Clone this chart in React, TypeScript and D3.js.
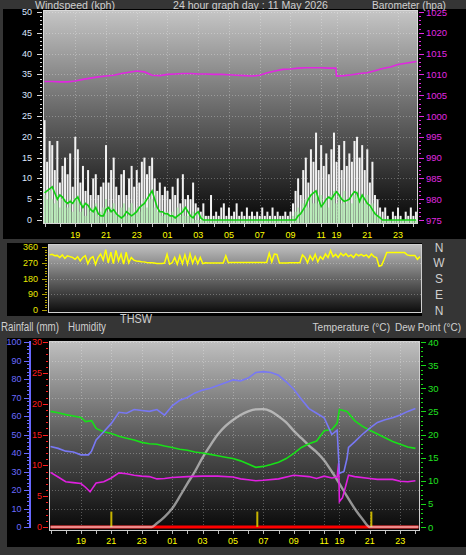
import React from "react";
import * as d3 from "d3";

const W = 466;
const H = 555;
const FONT = "'Liberation Sans', Arial, Helvetica, sans-serif";

// ---------------- data ----------------
// time axis: hours since 17:00 (with the data gap compressed after 11:xx)
const hourDomain: [number, number] = [-0.1, 24.3];
const xTickLabels = ["19", "21", "23", "01", "03", "05", "07", "09", "11", "19", "21", "23"];
const xTickHours = [2, 4, 6, 8, 10, 12, 14, 16, 18, 19, 21, 23];
const sampleStepHours = 1 / 6; // 10-minute samples

const gustKph = [
  24, 14, 19, 18, 12, 19, 9, 13, 15, 11, 16, 8,
  20, 17, 9, 13, 7, 12, 6, 10, 11, 6, 8, 9,
  18, 9, 12, 15, 8, 6, 11, 12, 6, 10, 13, 8,
  12, 9, 14, 15, 11, 13, 15, 10, 7, 9, 6, 8,
  7, 5, 8, 6, 10, 4, 11, 5, 6, 5, 9, 4,
  3, 2, 4, 1, 1, 6, 1, 2, 1, 3, 4, 1,
  3, 1, 2, 4, 1, 2, 1, 3, 1, 2, 1, 2,
  1, 3, 1, 2, 1, 3, 1, 2, 1, 1, 2, 1,
  2, 4, 7, 10, 6, 12, 15, 9, 17, 14, 21, 12,
  18, 13, 16, 11, 17, 21, 14, 18, 12, 19, 13, 16,
  14, 19, 20, 15, 18, 12, 17, 9, 14, 6, 5, 3,
  2, 3, 1, 0, 2, 1, 3, 1, 0, 2, 1, 3, 1, 2,
];

const windKph = [
  6, 5, 7, 5, 4, 6, 3, 5, 5, 3, 5, 2,
  5, 6, 2, 4, 1, 4, 2, 3, 4, 1, 2, 3,
  5, 2, 3, 4, 2, 1, 3, 4, 1, 3, 4, 2,
  3, 2, 4, 5, 3, 5, 5, 3, 2, 2, 1, 2,
  2, 1, 2, 1, 3, 1, 3, 1, 1, 1, 2, 0,
  0, 0, 1, 0, 0, 0, 0, 0, 0, 0, 0, 0,
  0, 0, 0, 0, 0, 0, 0, 0, 0, 0, 0, 0,
  0, 0, 0, 0, 0, 0, 0, 0, 0, 0, 0, 0,
  0, 1, 2, 3, 2, 4, 5, 3, 6, 4, 7, 4,
  6, 4, 5, 3, 6, 7, 4, 6, 4, 7, 4, 5,
  4, 6, 7, 5, 6, 4, 6, 3, 4, 2, 1, 1,
  0, 0, 0, 0, 0, 0, 0, 0, 0, 0, 0, 0, 0, 0,
];

const windAvgKph = [
  6.5, 7, 7.5, 8, 6.5, 5, 6, 5.5, 4.5, 4, 4.5, 4,
  5, 5.5, 4, 3, 4, 3.5, 2.5, 2, 3, 1.5, 1, 1,
  2.5, 3, 2, 2.5, 1.5, 1, 0.5, 1, 2, 1.5, 1, 1.5,
  2, 3, 3.5, 4, 5, 6, 7, 5, 3, 2, 2, 1.5,
  1.5, 1, 1, 0.5, 1, 1.5, 2, 3, 2, 1, 0.5, 1.5,
  2, 0.5, 0, 0, 0, 0, 0, 0, 0, 0, 0, 0,
  0, 0, 0, 0, 0, 0, 0, 0, 0, 0, 0, 0,
  0, 0, 0, 0, 0, 0, 0, 0, 0, 0, 0, 0,
  0, 0, 0, 1, 1.5, 2.5, 3.5, 5, 6, 6.5, 7, 5,
  3.2, 4, 5, 5.5, 5, 6, 6.8, 6, 5, 4.5, 4.7, 5,
  6, 6.8, 6.5, 4.5, 6, 5, 4, 3.5, 2.5, 1.5, 1, 0.5,
  0, 0, 0, 0, 0, 0, 0, 0, 0, 0, 0, 0, 0, 0,
];

const windDirDeg = [
  315, 318, 310, 312, 300, 315, 295, 310, 305, 300,
  290, 305, 280, 300, 310, 265, 295, 305, 260, 300,
  320, 285, 345, 270, 330, 265, 340, 280, 320, 262,
  330, 270, 300, 285, 280, 278, 276, 275, 272, 270,
  270, 268, 266, 266, 266, 268, 318, 262, 270, 300,
  262, 310, 265, 315, 262, 320, 268, 305, 265, 300,
  265, 270, 268, 268, 268, 268, 268, 268, 268, 310,
  270, 272, 272, 272, 272, 272, 272, 272, 272, 272,
  272, 272, 272, 272, 272, 272, 325, 275, 320, 318,
  268, 268, 268, 268, 270, 270, 270, 270, 270, 315,
  300, 270, 310, 285, 318, 275, 305, 290, 320, 300,
  340, 305, 318, 300, 325, 310, 322, 305, 315, 300,
  320, 310, 318, 308, 315, 300, 320, 305, 300, 250,
  255, 290, 328, 328, 328, 328, 328, 328, 328, 328,
  315, 312, 312, 312, 290, 305,
];

const baroHours = [
  0, 0.5, 1, 1.5, 2, 2.5, 3, 3.5, 4, 4.5, 5, 5.5, 6, 6.5, 7, 7.5, 8, 8.5, 9, 9.5,
  10, 10.5, 11, 11.5, 12, 12.5, 13, 13.5, 14, 14.5, 15, 15.5, 16, 16.5, 17, 17.5,
  18, 18.5, 18.95, 19, 19.5, 20, 20.5, 21, 21.5, 22, 22.5, 23, 23.5, 24, 24.2,
];
const baroHpa = [
  1008.3, 1008.3, 1008.2, 1008.2, 1008.4, 1008.8, 1009.1, 1009.4, 1009.6, 1009.8,
  1010.2, 1010.5, 1010.8, 1010.6, 1009.8, 1009.7, 1010.0, 1010.1, 1010.2, 1010.2,
  1010.1, 1010.1, 1010.0, 1010.0, 1009.9, 1009.8, 1009.7, 1009.6, 1009.8, 1010.4,
  1010.8, 1011.2, 1011.3, 1011.5, 1011.6, 1011.6, 1011.6, 1011.5, 1011.5, 1009.6,
  1009.7, 1009.9, 1010.2, 1010.4, 1010.9, 1011.4, 1011.8, 1012.4, 1012.7, 1013.0, 1013.1,
];

const humHours = [
  0, 0.5, 1, 1.5, 2, 2.5, 2.7, 3, 3.5, 4, 4.5, 5, 5.5, 6, 6.5, 7, 7.5, 8, 8.5, 9,
  9.5, 10, 10.5, 11, 11.5, 12, 12.5, 13, 13.5, 14, 14.5, 15, 15.5, 16, 16.5, 17, 17.5,
  18, 18.5, 18.85, 19, 19.3, 19.5, 19.6, 20, 20.5, 21, 21.5, 22, 22.5, 23, 23.5, 24,
];
const humPct = [
  43.5, 42.5, 41, 40.5, 39, 39, 41, 47, 51.5, 56, 62, 61.5, 63.5, 63, 62.5, 63.5, 60.5,
  65.5, 68.5, 70, 72.5, 74, 75, 76.5, 78, 79.5, 79, 80.5, 83.5, 84, 83.5, 82, 78.5, 74.5,
  69, 64, 61.5, 59, 50, 52.4, 29, 30, 37, 43, 46, 50, 53.5, 56.5, 58, 59, 60.5, 62.5, 64,
];

const tempHours = [
  0, 0.5, 1, 1.5, 2, 2.3, 2.7, 3, 3.5, 4, 4.5, 5, 5.5, 6, 6.5, 7, 7.5, 8, 8.5, 9,
  9.5, 10, 10.5, 11, 11.5, 12, 12.5, 13, 13.5, 14, 14.5, 15, 15.5, 16, 16.5, 17, 17.5,
  18, 18.5, 18.85, 19, 19.5, 20, 20.5, 21, 21.5, 22, 22.5, 23, 23.5, 24,
];
const tempC = [
  25, 24.7, 24.3, 24, 23.7, 22.8, 23, 21.3, 20.6, 20.2, 19.6, 19.2, 18.8, 18.3, 18, 17.9,
  17.5, 17.2, 16.8, 16.6, 16.2, 16, 15.7, 15.4, 15.1, 14.8, 14.3, 13.6, 12.9, 13.1, 13.5,
  14, 14.8, 15.9, 17.2, 18, 18.6, 20.8, 21.1, 22.4, 25.4, 25, 23, 21.8, 20.9, 20.1, 19.3,
  18.5, 17.9, 17.3, 17,
];

const dewHours = [
  0, 0.5, 1, 1.5, 2, 2.3, 2.6, 3, 3.5, 4, 4.5, 5, 5.5, 6, 6.5, 7, 7.5, 8, 9, 10,
  11, 12, 12.5, 13, 13.5, 14, 15, 16, 17, 17.5, 18, 18.5, 18.85, 18.95, 19, 19.2, 19.4,
  19.6, 20, 21, 21.5, 22.5, 23, 23.5, 24,
];
const dewC = [
  11.8, 10.8, 9.8, 9.6, 9.4, 8.6, 7.6, 9.5, 9.8, 10.6, 11.7, 11.5, 11.2, 11, 10.9, 10.4,
  10.5, 10.7, 10.9, 11, 11, 10.8, 10.4, 10.2, 10, 10.1, 10.4, 11.2, 10.9, 10.5, 11, 10.6,
  10.8, 13.8, 5.5, 6.3, 8.7, 11.2, 10.9, 10.5, 10.3, 10.3, 9.9, 9.8, 10,
];

const solarHours = [
  0, 6.65, 7, 7.5, 8, 8.5, 9, 9.5, 10, 10.5, 11, 11.5, 12, 12.5, 13, 13.5, 14, 14.5,
  15, 15.5, 16, 16.5, 17, 17.5, 18, 18.5, 19, 19.5, 20, 20.5, 21, 24.2,
];
const solarWm2 = [
  0, 0, 20, 55, 100, 165, 235, 300, 375, 440, 500, 545, 578, 605, 625, 636, 637, 625,
  598, 565, 520, 480, 440, 405, 360, 300, 235, 165, 100, 45, 0, 0,
];

const rainHours = [0, 24.2];
const rainMm = [0, 0];
const markerHours = [4, 13.6, 21.1];
const markerMm = [2.5, 2.5, 2.5];

const windTicks = d3.range(0, 51, 1);
const baroTicks = d3.range(975, 1026, 1);
const dirTicks = d3.range(0, 361, 15);
const humTicks = d3.range(0, 101, 2);
const rainTicks = d3.range(0, 31, 1);
const tempTicks = d3.range(0, 41, 1);
const dirLabels = ["N", "W", "S", "E", "N"];
const dirLabelDeg = [360, 270, 180, 90, 0];

// ---------------- component ----------------
export default function App() {
  // top panel
  const top = { l: 43, r: 418, t: 10, b: 224 };
  const xTop = d3.scaleLinear().domain(hourDomain).range([top.l, top.r]);
  const yWind = d3.scaleLinear().domain([0, 50]).range([220, 12]);
  const yBaro = d3.scaleLinear().domain([975, 1025]).range([220, 12]);

  // direction panel
  const mid = { l: 48, r: 422, t: 244, b: 313 };
  const xDir = d3.scaleLinear().domain(hourDomain).range([mid.l, mid.r]);
  const yDir = d3.scaleLinear().domain([0, 360]).range([310, 247]);

  // bottom panel
  const bot = { l: 49, r: 420, t: 341, b: 531 };
  const xBot = d3.scaleLinear().domain(hourDomain).range([bot.l, bot.r]);
  const yHum = d3.scaleLinear().domain([0, 100]).range([527, 342]);
  const yRain = d3.scaleLinear().domain([0, 30]).range([527, 342]);
  const yTemp = d3.scaleLinear().domain([0, 40]).range([527, 342]);
  const ySolar = d3.scaleLinear().domain([0, 1000]).range([527, 342]);

  const windHours = gustKph.map((_, i) => i * sampleStepHours);
  const step = xTop(sampleStepHours) - xTop(0);
  const barW = step * 0.78;

  const avgLine = d3.line<number>().x((_, i) => xTop(windHours[i])).y((d) => yWind(d));
  const baroLine = d3.line<number>().x((_, i) => xTop(baroHours[i])).y((d) => yBaro(d));
  const dirLine = d3.line<number>().x((_, i) => xDir(windHours[i])).y((d) => yDir(d));
  const humLine = d3.line<number>().x((_, i) => xBot(humHours[i])).y((d) => yHum(d));
  const tempLine = d3.line<number>().x((_, i) => xBot(tempHours[i])).y((d) => yTemp(d));
  const dewLine = d3.line<number>().x((_, i) => xBot(dewHours[i])).y((d) => yTemp(d));
  const solarLine = d3
    .line<number>()
    .x((_, i) => xBot(solarHours[i]))
    .y((d) => ySolar(d))
    .curve(d3.curveMonotoneX);
  const rainLine = d3.line<number>().x((_, i) => xBot(rainHours[i])).y((d) => yRain(d));

  const titleColor = "#cfcfcf";
  const grid = { stroke: "#ffffff", strokeOpacity: 0.28, strokeDasharray: "1 2" };
  const hourTicks = d3.range(0, 25, 1);

  const vTicks = (
    vals: number[],
    scale: d3.ScaleLinear<number, number>,
    x0: number,
    dir: number,
    isMajor: (v: number) => boolean,
    color: string,
    major = 5,
    minor = 2
  ) =>
    vals.map((v) => (
      <line
        key={`t${x0}-${v}`}
        x1={x0}
        x2={x0 + dir * (isMajor(v) ? major : minor)}
        y1={Math.round(scale(v)) + 0.5}
        y2={Math.round(scale(v)) + 0.5}
        stroke={color}
        strokeWidth={1}
      />
    ));

  return (
    <svg
      width={W}
      height={H}
      style={{ position: "absolute", left: 0, top: 0, display: "block" }}
      fontFamily={FONT}
    >
      <defs>
        <linearGradient id="gTop" x1="0" y1="0" x2="0" y2="1">
          <stop offset="0" stopColor="#c6c6c6" />
          <stop offset="0.45" stopColor="#6c6c6c" />
          <stop offset="1" stopColor="#060606" />
        </linearGradient>
        <linearGradient id="gMid" x1="0" y1="0" x2="0" y2="1">
          <stop offset="0" stopColor="#c2c2c2" />
          <stop offset="1" stopColor="#0a0a0a" />
        </linearGradient>
        <linearGradient id="gBot" x1="0" y1="0" x2="0" y2="1">
          <stop offset="0" stopColor="#c0c0c0" />
          <stop offset="0.5" stopColor="#5a5a5a" />
          <stop offset="1" stopColor="#080808" />
        </linearGradient>
        <clipPath id="cTop">
          <rect x={top.l} y={top.t} width={top.r - top.l} height={top.b - top.t} />
        </clipPath>
        <clipPath id="cMid">
          <rect x={mid.l} y={mid.t} width={mid.r - mid.l} height={mid.b - mid.t} />
        </clipPath>
        <clipPath id="cBot">
          <rect x={bot.l} y={bot.t} width={bot.r - bot.l} height={bot.b - bot.t} />
        </clipPath>
      </defs>

      {/* page */}
      <rect x={0} y={0} width={W} height={H} fill="#353535" />

      {/* panel backgrounds */}
      <rect x={3} y={9} width={W - 3} height={230} fill="#000" />
      <rect x={7} y={243} width={mid.r - 7} height={73} fill="#000" />
      <rect x={7} y={338} width={W - 7} height={209} fill="#000" />

      {/* titles */}
      <g fill={titleColor} fontSize={11.5}>
        <text x={35} y={9} textLength={80} lengthAdjust="spacingAndGlyphs">Windspeed (kph)</text>
        <text x={173} y={9} textLength={155} lengthAdjust="spacingAndGlyphs">24 hour graph day : 11 May 2026</text>
        <text x={372} y={9} textLength={74} lengthAdjust="spacingAndGlyphs">Barometer (hpa)</text>
      </g>
      <g fill={titleColor} fontSize={12}>
        <text x={120} y={323} textLength={32} lengthAdjust="spacingAndGlyphs">THSW</text>
        <text x={1} y={330.5} textLength={58} lengthAdjust="spacingAndGlyphs">Rainfall (mm)</text>
        <text x={68} y={330.5} textLength={38} lengthAdjust="spacingAndGlyphs">Humidity</text>
        {dirLabels.map((t, i) => (
          <text key={`d${i}`} x={439} y={yDir(dirLabelDeg[i]) + 4.5} textAnchor="middle">
            {t}
          </text>
        ))}
      </g>
      <g fill={titleColor} fontSize={10.5}>
        <text x={312.5} y={330.5} textLength={77.5} lengthAdjust="spacingAndGlyphs">Temperature (°C)</text>
        <text x={395} y={330.5} textLength={66} lengthAdjust="spacingAndGlyphs">Dew Point (°C)</text>
      </g>

      {/* ===== TOP PANEL ===== */}
      <rect x={top.l} y={top.t} width={top.r - top.l} height={top.b - top.t} fill="url(#gTop)" />
      <g {...grid}>
        {d3.range(5, 51, 5).map((v) => (
          <line key={`hg${v}`} x1={top.l} x2={top.r} y1={Math.round(yWind(v)) + 0.5} y2={Math.round(yWind(v)) + 0.5} />
        ))}
        {xTickHours.map((h, i) => (
          <line key={`vg${i}`} x1={Math.round(xTop(h)) + 0.5} x2={Math.round(xTop(h)) + 0.5} y1={top.t} y2={top.b} />
        ))}
      </g>
      <g clipPath="url(#cTop)">
        {gustKph.map((v, i) => (
          <rect
            key={`g${i}`}
            x={xTop(windHours[i]) - barW / 2}
            y={yWind(v)}
            width={barW}
            height={yWind(0) - yWind(v) + 3}
            fill="#f2f2f2"
          />
        ))}
        {windKph.map((v, i) => (
          <rect
            key={`w${i}`}
            x={xTop(windHours[i]) - barW / 2}
            y={yWind(v)}
            width={barW}
            height={yWind(0) - yWind(v) + 3}
            fill="#b4ecb4"
            fillOpacity={0.9}
          />
        ))}
        <path d={avgLine(windAvgKph) || ""} fill="none" stroke="#10d010" strokeWidth={1.6} />
        <path d={baroLine(baroHpa) || ""} fill="none" stroke="#e028e0" strokeWidth={1.6} />
      </g>
      <rect x={top.l + 0.5} y={top.t + 0.5} width={top.r - top.l - 1} height={top.b - top.t - 1} fill="none" stroke="#d8d8d8" strokeWidth={1} />
      {/* top left axis */}
      {vTicks(windTicks, yWind, top.l - 1, -1, (v) => v % 5 === 0, "#d8d8d8", 5, 2)}
      <g fill="#dce6ff" fontSize={9} textAnchor="end">
        {d3.range(0, 51, 5).map((v) => (
          <text key={`wl${v}`} x={32} y={yWind(v) + 3}>
            {v}
          </text>
        ))}
      </g>
      {/* top right axis */}
      {vTicks(baroTicks, yBaro, top.r + 1, 1, (v) => v % 5 === 0, "#e028e0", 5, 2)}
      <g fill="#e028e0" fontSize={9.5}>
        {d3.range(975, 1026, 5).map((v) => (
          <text key={`bl${v}`} x={426} y={yBaro(v) + 3.5}>
            {v}
          </text>
        ))}
      </g>
      {/* top x axis */}
      {hourTicks.map((h) => (
        <line key={`xt${h}`} x1={Math.round(xTop(h)) + 0.5} x2={Math.round(xTop(h)) + 0.5} y1={top.b} y2={top.b + 3} stroke="#bbbbbb" />
      ))}
      <g fill="#ffff00" fontSize={9} textAnchor="middle">
        {xTickHours.map((h, i) => (
          <text key={`xl${i}`} x={xTop(h)} y={237.5}>
            {xTickLabels[i]}
          </text>
        ))}
      </g>

      {/* ===== DIRECTION PANEL ===== */}
      <rect x={mid.l} y={mid.t} width={mid.r - mid.l} height={mid.b - mid.t} fill="url(#gMid)" />
      <g {...grid}>
        {[90, 180, 270].map((v) => (
          <line key={`dg${v}`} x1={mid.l} x2={mid.r} y1={Math.round(yDir(v)) + 0.5} y2={Math.round(yDir(v)) + 0.5} />
        ))}
      </g>
      <g clipPath="url(#cMid)">
        <path d={dirLine(windDirDeg) || ""} fill="none" stroke="#ffff00" strokeWidth={1.5} />
      </g>
      <rect x={mid.l + 0.5} y={mid.t + 0.5} width={mid.r - mid.l - 1} height={mid.b - mid.t - 1} fill="none" stroke="#d0d0d0" strokeWidth={1} />
      {vTicks(dirTicks, yDir, mid.l - 1, -1, (v) => v % 90 === 0, "#b0a000", 5, 2)}
      <g fill="#e8e800" fontSize={9} textAnchor="end">
        {[0, 90, 180, 270, 360].map((v) => (
          <text key={`dl${v}`} x={38} y={yDir(v) + 3}>
            {v}
          </text>
        ))}
      </g>

      {/* ===== BOTTOM PANEL ===== */}
      <rect x={bot.l} y={bot.t} width={bot.r - bot.l} height={bot.b - bot.t} fill="url(#gBot)" />
      <g {...grid}>
        {d3.range(10, 101, 10).map((v) => (
          <line key={`bg${v}`} x1={bot.l} x2={bot.r} y1={Math.round(yHum(v)) + 0.5} y2={Math.round(yHum(v)) + 0.5} />
        ))}
        {xTickHours.map((h, i) => (
          <line key={`bvg${i}`} x1={Math.round(xBot(h)) + 0.5} x2={Math.round(xBot(h)) + 0.5} y1={bot.t} y2={bot.b} />
        ))}
      </g>
      <g clipPath="url(#cBot)">
        <path d={rainLine(rainMm) || ""} fill="none" stroke="#ff0000" strokeWidth={3} />
        {markerHours.map((h, i) => (
          <line
            key={`mk${i}`}
            x1={xBot(h)}
            x2={xBot(h)}
            y1={yRain(0)}
            y2={yRain(markerMm[i])}
            stroke="#c8b400"
            strokeWidth={2}
          />
        ))}
        <path d={solarLine(solarWm2) || ""} fill="none" stroke="#e4e4e4" strokeOpacity={0.6} strokeWidth={2.4} />
        <path d={dewLine(dewC) || ""} fill="none" stroke="#e020e0" strokeWidth={1.6} />
        <path d={tempLine(tempC) || ""} fill="none" stroke="#18e018" strokeWidth={1.6} />
        <path d={humLine(humPct) || ""} fill="none" stroke="#7878f4" strokeWidth={1.6} />
      </g>
      <rect x={bot.l + 0.5} y={bot.t + 0.5} width={bot.r - bot.l - 1} height={bot.b - bot.t - 1} fill="none" stroke="#d0d0d0" strokeWidth={1} />
      {/* humidity axis (blue) */}
      <line x1={30} x2={30} y1={yHum(100) - 1} y2={yHum(0) + 1} stroke="#6868ff" strokeWidth={2} />
      {vTicks(humTicks, yHum, 29, -1, (v) => v % 10 === 0, "#6868ff", 5, 2)}
      <g fill="#6a6aff" fontSize={9} textAnchor="end">
        {d3.range(0, 101, 10).map((v) => (
          <text key={`hl${v}`} x={21.5} y={yHum(v) + 3}>
            {v}
          </text>
        ))}
      </g>
      {/* rain axis (red) */}
      {vTicks(rainTicks, yRain, bot.l - 1, -1, (v) => v % 5 === 0, "#ff2020", 5, 2)}
      <g fill="#ff1c1c" fontSize={9} textAnchor="end">
        {d3.range(0, 31, 5).map((v) => (
          <text key={`rl${v}`} x={42} y={yRain(v) + 3}>
            {v}
          </text>
        ))}
      </g>
      {/* temperature axis (green) */}
      {vTicks(tempTicks, yTemp, bot.r + 1, 1, (v) => v % 5 === 0, "#18d818", 5, 2)}
      <g fill="#20e020" fontSize={9.5}>
        {d3.range(0, 41, 5).map((v) => (
          <text key={`tl${v}`} x={428} y={yTemp(v) + 3.5}>
            {v}
          </text>
        ))}
      </g>
      {/* bottom x axis */}
      {hourTicks.map((h) => (
        <line key={`bxt${h}`} x1={Math.round(xBot(h)) + 0.5} x2={Math.round(xBot(h)) + 0.5} y1={bot.b} y2={bot.b + 3} stroke="#bbbbbb" />
      ))}
      <g fill="#ffff00" fontSize={9} textAnchor="middle">
        {xTickHours.map((h, i) => (
          <text key={`bxl${i}`} x={xBot(h)} y={544}>
            {xTickLabels[i]}
          </text>
        ))}
      </g>
    </svg>
  );
}
